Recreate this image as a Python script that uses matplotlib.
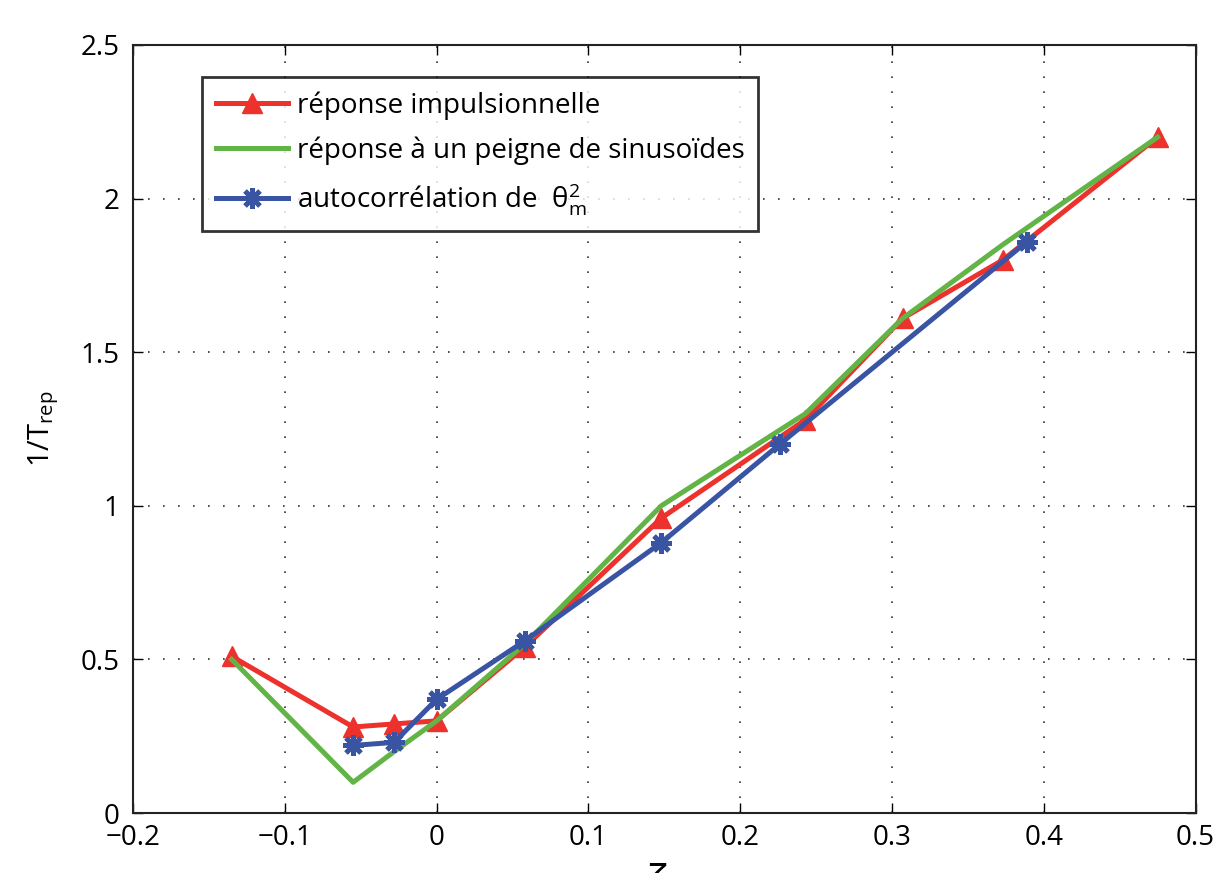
import matplotlib.pyplot as plt

plt.rcParams['font.family'] = ['Open Sans', 'DejaVu Sans']
plt.rcParams['mathtext.default'] = 'regular'

# réponse impulsionnelle
x_imp = [-0.135, -0.055, -0.028, 0.0, 0.058, 0.148, 0.243, 0.307, 0.373, 0.475]
y_imp = [0.51, 0.28, 0.29, 0.30, 0.54, 0.96, 1.28, 1.61, 1.80, 2.20]

# réponse à un peigne de sinusoïdes
x_peigne = [-0.135, -0.055, -0.028, 0.0, 0.058, 0.148, 0.243, 0.307, 0.373, 0.475]
y_peigne = [0.50, 0.10, 0.20, 0.30, 0.55, 1.00, 1.30, 1.61, 1.85, 2.20]

# autocorrélation de theta_m^2
x_auto = [-0.055, -0.028, 0.0, 0.058, 0.148, 0.226, 0.389]
y_auto = [0.22, 0.23, 0.37, 0.56, 0.88, 1.20, 1.86]

RED = "#ED312C"
GREEN = "#62B446"
BLUE = "#3A54A4"

fig = plt.figure(figsize=(12.15, 8.73), dpi=100)
ax = fig.add_axes([0.1095, 0.0687, 0.8745, 0.8798])

ax.plot(x_imp, y_imp, color=RED, lw=3.6, marker="^", ms=15,
        markeredgecolor=RED, label="réponse impulsionnelle")
ax.plot(x_peigne, y_peigne, color=GREEN, lw=3.6,
        label="réponse à un peigne de sinusoïdes")
ax.plot(x_auto, y_auto, color=BLUE, lw=3.6, marker=(8, 2, 0), ms=15,
        markeredgewidth=3.5, markeredgecolor=BLUE,
        label=r"autocorrélation de  $\theta_m^2$")

ax.set_xlim(-0.2, 0.5)
ax.set_ylim(0, 2.5)
ax.set_xticks([-0.2, -0.1, 0, 0.1, 0.2, 0.3, 0.4, 0.5])
ax.set_xticklabels(["\u22120.2", "\u22120.1", "0", "0.1", "0.2", "0.3", "0.4", "0.5"])
ax.set_yticks([0, 0.5, 1, 1.5, 2, 2.5])
ax.set_yticklabels(["0", "0.5", "1", "1.5", "2", "2.5"])
ax.tick_params(direction="in", length=7, width=1, labelsize=20,
               top=True, right=True)
ax.tick_params(axis="x", pad=8)
ax.tick_params(axis="y", pad=10)
for sp in ax.spines.values():
    sp.set_linewidth(1.5)
    sp.set_color("#222222")

ax.grid(True, color="#333333", linestyle=(0, (1, 8)), linewidth=1.2)

ax.set_ylabel(r"1/T$_{rep}$", fontsize=21, labelpad=14)
fig.text(0.54, 0.014, r"$\zeta$", fontsize=32, ha="center", va="top")

leg = ax.legend(loc="upper left", bbox_to_anchor=(0.065, 0.958), fontsize=20,
                frameon=True, fancybox=False, edgecolor="black",
                handlelength=2.6, handletextpad=0.3, borderpad=0.5,
                labelspacing=0.6, borderaxespad=0)
leg.get_frame().set_linewidth(2)

fig.savefig("out.png", dpi=100)
